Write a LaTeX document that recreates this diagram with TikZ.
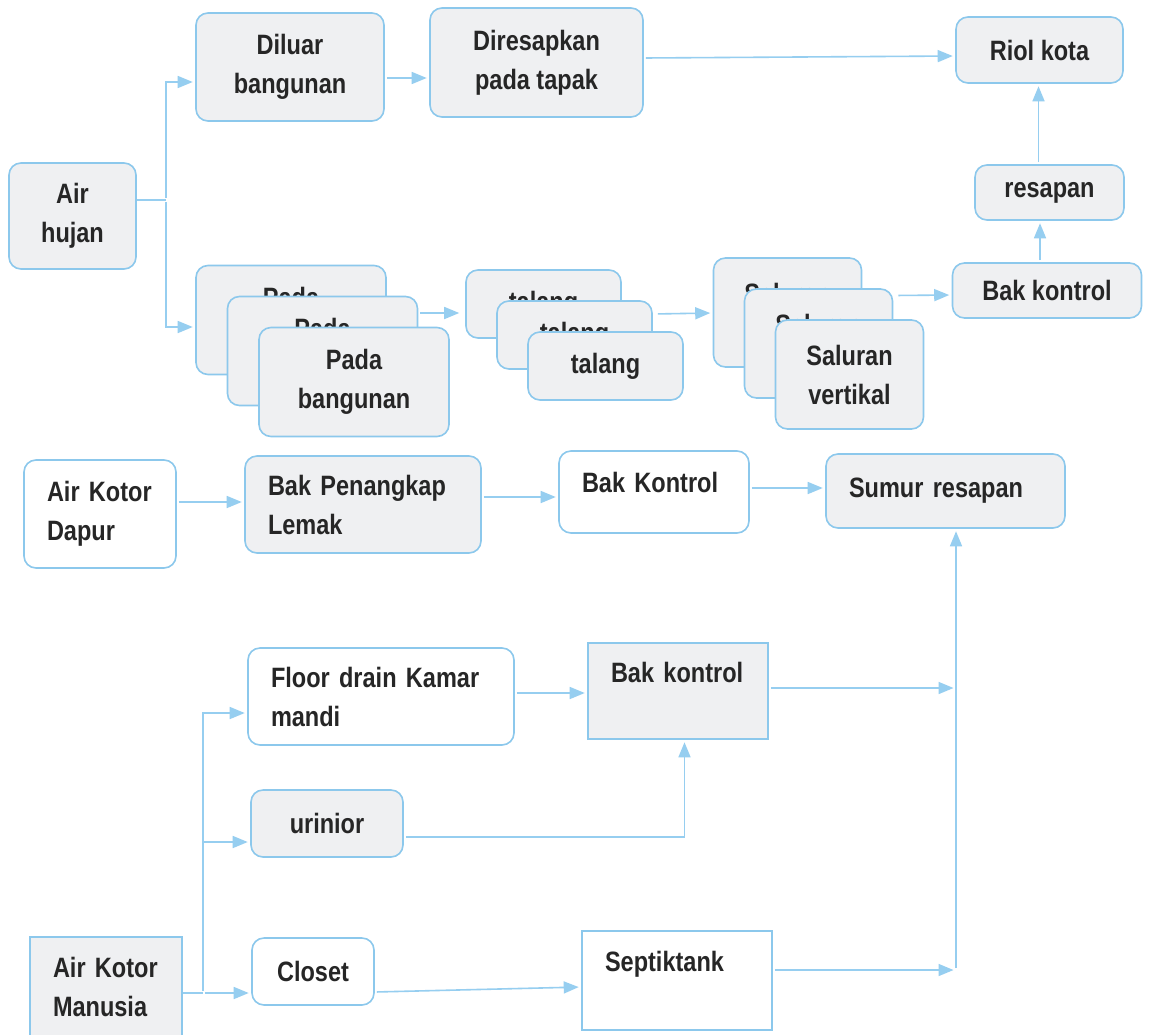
\documentclass[tikz,border=0pt]{standalone}
\usepackage{fontspec}
\setmainfont{Liberation Sans}[FakeStretch=0.84]
\usepackage{xcolor}
\usepackage{tikz}
\usetikzlibrary{arrows.meta}

\definecolor{edgeblue}{RGB}{140,200,236}
\definecolor{pipeblue}{RGB}{150,206,240}
\definecolor{boxgrey}{RGB}{239,240,242}
\definecolor{inkgrey}{RGB}{38,38,38}

\begin{document}
\begin{tikzpicture}[x=1pt, y=-1pt,
    box/.style={draw=edgeblue, line width=1.6pt, text=inkgrey, inner sep=0pt, align=center,
        font=\fontsize{28}{39}\selectfont\bfseries},
    shaded/.style={fill=boxgrey},
    blank/.style={fill=white},
    soft/.style={rounded corners=12pt},
    lefttext/.style={align=left, inner xsep=23pt, text width=#1},
    pipe/.style={draw=pipeblue, line width=1.6pt},
    flow/.style={pipe, -{Triangle[length=15pt, width=12pt]}, shorten >=2.5pt, shorten <=2pt}]
    \useasboundingbox (0,0) rectangle (1150,1034);
    \clip (0,0) rectangle (1150,1034);
    \fill[white] (0,0) rectangle (1150,1034);

    % air hujan
    \node[box, shaded, soft, minimum width=127pt, minimum height=106pt] (hujan) at (72.5,216) {Air\\hujan};
    \node[box, shaded, soft, minimum width=188pt, minimum height=108pt] (diluar) at (290,67) {Diluar\\bangunan};
    \node[box, shaded, soft, minimum width=213pt, minimum height=109pt] (diresap) at (536.5,62.5) {Diresapkan\\pada tapak};
    \node[box, shaded, soft, minimum width=167pt, minimum height=66pt] (riol) at (1039.5,50) {Riol kota};
    \node[box, shaded, soft, minimum width=149pt, minimum height=55pt] (resapan) at (1049.5,192.5) {resapan};
    \node[box, shaded, soft, minimum width=189pt, minimum height=55pt] (kontrolA) at (1047,290.5) {Bak kontrol};
    \foreach \k in {1,2,3}
    {
        \node[box, shaded, soft, minimum width=190pt, minimum height=109pt] (pada\k) at ({291+31.5*(\k-1)},{320+31*(\k-1)}) {Pada\\bangunan};
    }
    \foreach \k in {1,2,3}
    {
        \node[box, shaded, soft, minimum width=155pt, minimum height=68pt] (talang\k) at ({543.5+31*(\k-1)},{304+31*(\k-1)}) {talang};
    }
    \foreach \k in {1,2,3}
    {
        \node[box, shaded, soft, minimum width=148pt, minimum height=109pt] (saluran\k) at ({787.5+31*(\k-1)},{312.5+31*(\k-1)}) {Saluran\\vertikal};
    }

    \coordinate (hj) at (166,200);
    \draw[pipe] (hujan.east |- hj) -- (hj);
    \draw[flow] (hj) |- ([yshift=-15pt]diluar.west);
    \draw[flow] (hj) |- ([yshift=-7pt]pada1.west);
    \draw[flow] ([yshift=-11pt]diluar.east) -- ([yshift=-15.5pt]diresap.west);
    \draw[flow] ([yshift=4.5pt]diresap.east) -- ([yshift=-6pt]riol.west);
    \draw[flow, shorten >=6pt] ([yshift=38pt]pada2.east) -- ([yshift=-9pt]talang1.west);
    \draw[flow, shorten <=5pt] ([yshift=21pt]talang2.east) -- ([yshift=-0.5pt]saluran1.west);
    \draw[flow, shorten <=5pt] ([yshift=48pt]saluran2.east) -- ([yshift=-4.5pt]kontrolA.west);
    \draw[flow] ([xshift=-7pt]kontrolA.north) -- ([xshift=-9.5pt]resapan.south);
    \draw[flow] ([xshift=-11pt]resapan.north) -- ([xshift=-1pt]riol.south);

    % air kotor dapur
    \node[box, blank, soft, lefttext=106pt, minimum height=108pt] (dapur) at (100,514) {Air Kotor\\Dapur};
    \node[box, shaded, soft, lefttext=190pt, minimum height=97pt] (lemak) at (363,504.5) {Bak Penangkap\\Lemak};
    \node[box, blank, soft, lefttext=144pt, text height=41pt, text depth=41pt] (kontrolB) at (654,492) {Bak Kontrol};
    \node[box, shaded, soft, lefttext=193pt, minimum height=74pt] (sumur) at (945.5,491) {Sumur resapan};

    \draw[flow] ([yshift=12pt]dapur.east) -- ([yshift=2.5pt]lemak.west);
    \draw[flow] ([yshift=7.5pt]lemak.east) -- ([yshift=-5pt]kontrolB.west);
    \draw[flow] ([yshift=4pt]kontrolB.east) -- ([yshift=3pt]sumur.west);

    % air kotor manusia
    \node[box, blank, soft, lefttext=220pt, minimum height=97pt] (floor) at (381,696.5) {Floor drain Kamar\\mandi};
    \node[box, shaded, lefttext=134pt, text height=39pt, text depth=57pt] (kontrolC) at (678,691) {Bak kontrol};
    \node[box, shaded, soft, minimum width=152pt, minimum height=67pt] (urin) at (327,823.5) {urinior};
    \node[box, shaded, lefttext=106pt, minimum height=100pt] (manusia) at (106,987) {Air Kotor\\Manusia};
    \node[box, blank, soft, minimum width=122pt, minimum height=67pt] (closet) at (313,971.5) {Closet};
    \node[box, blank, lefttext=144pt, text height=40pt, text depth=59pt] (septik) at (677,980.5) {Septiktank};

    \coordinate (jm) at (203,993);
    \coordinate (rA) at (956,688);
    \coordinate (rB) at (956,970);
    \draw[pipe] (manusia.east |- jm) -- (jm);
    \draw[flow] (jm) -- ([yshift=-21.5pt]closet.west);
    \draw[flow] (jm) |- ([yshift=-16.5pt]floor.west);
    \draw[flow] (jm) |- ([yshift=-18.5pt]urin.west);
    \draw[flow] ([yshift=3.5pt]floor.east) -- ([yshift=-2pt]kontrolC.west);
    \draw[flow] ([yshift=-13.5pt]urin.east) -| ([xshift=6.5pt]kontrolC.south);
    \draw[flow] ([yshift=-20.5pt]closet.east) -- ([yshift=-6.5pt]septik.west);
    \draw[flow] ([yshift=3pt]kontrolC.east) -- (rA);
    \draw[flow] ([yshift=10.5pt]septik.east) -- (rB);
    \draw[flow] (rB) -- (rB |- sumur.south);
\end{tikzpicture}
\end{document}
